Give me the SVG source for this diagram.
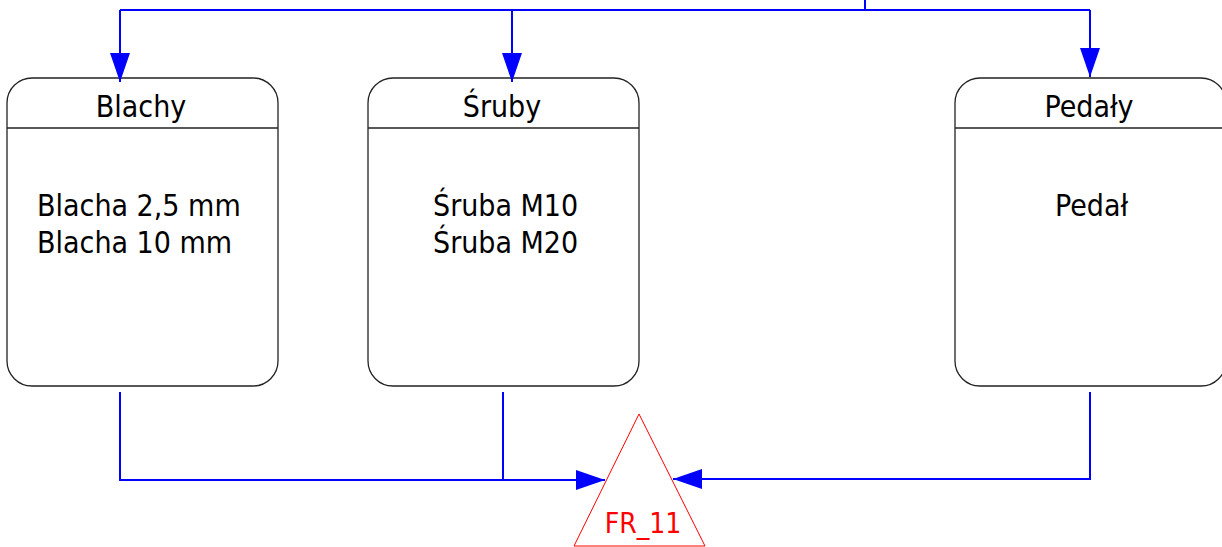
<svg xmlns="http://www.w3.org/2000/svg" width="1222" height="547" viewBox="0 0 1222 547">
<style>
.box{fill:#fff;stroke:#222;stroke-width:1.3}
.div{stroke:#222;stroke-width:1.3}
.t{font-family:'DejaVu Sans Condensed','DejaVu Sans',sans-serif;font-stretch:condensed;font-size:30px;fill:#000}
.h{text-anchor:middle}
.c{fill:none;stroke:#0000ff;stroke-width:2}
.fr{fill:#fff;stroke:#ff0000;stroke-width:1}
.frt{font-family:'DejaVu Sans Condensed','DejaVu Sans',sans-serif;font-stretch:condensed;font-size:28px;fill:#ff0000;text-anchor:middle}
</style>
<defs>
<marker id="ar" markerUnits="userSpaceOnUse" markerWidth="30" markerHeight="20" refX="29" refY="10" orient="auto" viewBox="0 0 30 20">
<path d="M0,0 L29,10 L0,20 z" fill="#0000ff"/>
</marker>
</defs>
<g id="blachy">
<rect class="box" x="7" y="78" width="271" height="308" rx="25" ry="25"/>
<line class="div" x1="7" y1="128" x2="278" y2="128"/>
<text class="t h" x="141" y="117">Blachy</text>
<text class="t" x="37" y="216">Blacha 2,5 mm</text>
<text class="t" x="37" y="253">Blacha 10 mm</text>
</g>
<g id="sruby">
<rect class="box" x="368" y="78" width="271" height="308" rx="25" ry="25"/>
<line class="div" x1="368" y1="128" x2="639" y2="128"/>
<text class="t h" x="502" y="117">Śruby</text>
<text class="t" x="433" y="216">Śruba M10</text>
<text class="t" x="433" y="253">Śruba M20</text>
</g>
<g id="pedaly">
<rect class="box" x="955" y="78" width="271" height="308" rx="25" ry="25"/>
<line class="div" x1="955" y1="128" x2="1226" y2="128"/>
<text class="t h" x="1089" y="117">Pedały</text>
<text class="t" x="1055" y="216">Pedał</text>
</g>
<g id="fr11">
<polygon class="fr" points="639,414 705,546 574,546"/>
<text class="frt" x="643" y="533">FR_11</text>
</g>
<g id="connectors">
<path class="c" d="M865,0 V10"/>
<path class="c" d="M120,10 H1090"/>
<path class="c" d="M120,10 V82" marker-end="url(#ar)"/>
<path class="c" d="M512,10 V82" marker-end="url(#ar)"/>
<path class="c" d="M1090,10 V77" marker-end="url(#ar)"/>
<path class="c" d="M120,392 V480 H605" marker-end="url(#ar)"/>
<path class="c" d="M503,392 V480"/>
<path class="c" d="M1090,392 V479 H673" marker-end="url(#ar)"/>
</g>
</svg>
